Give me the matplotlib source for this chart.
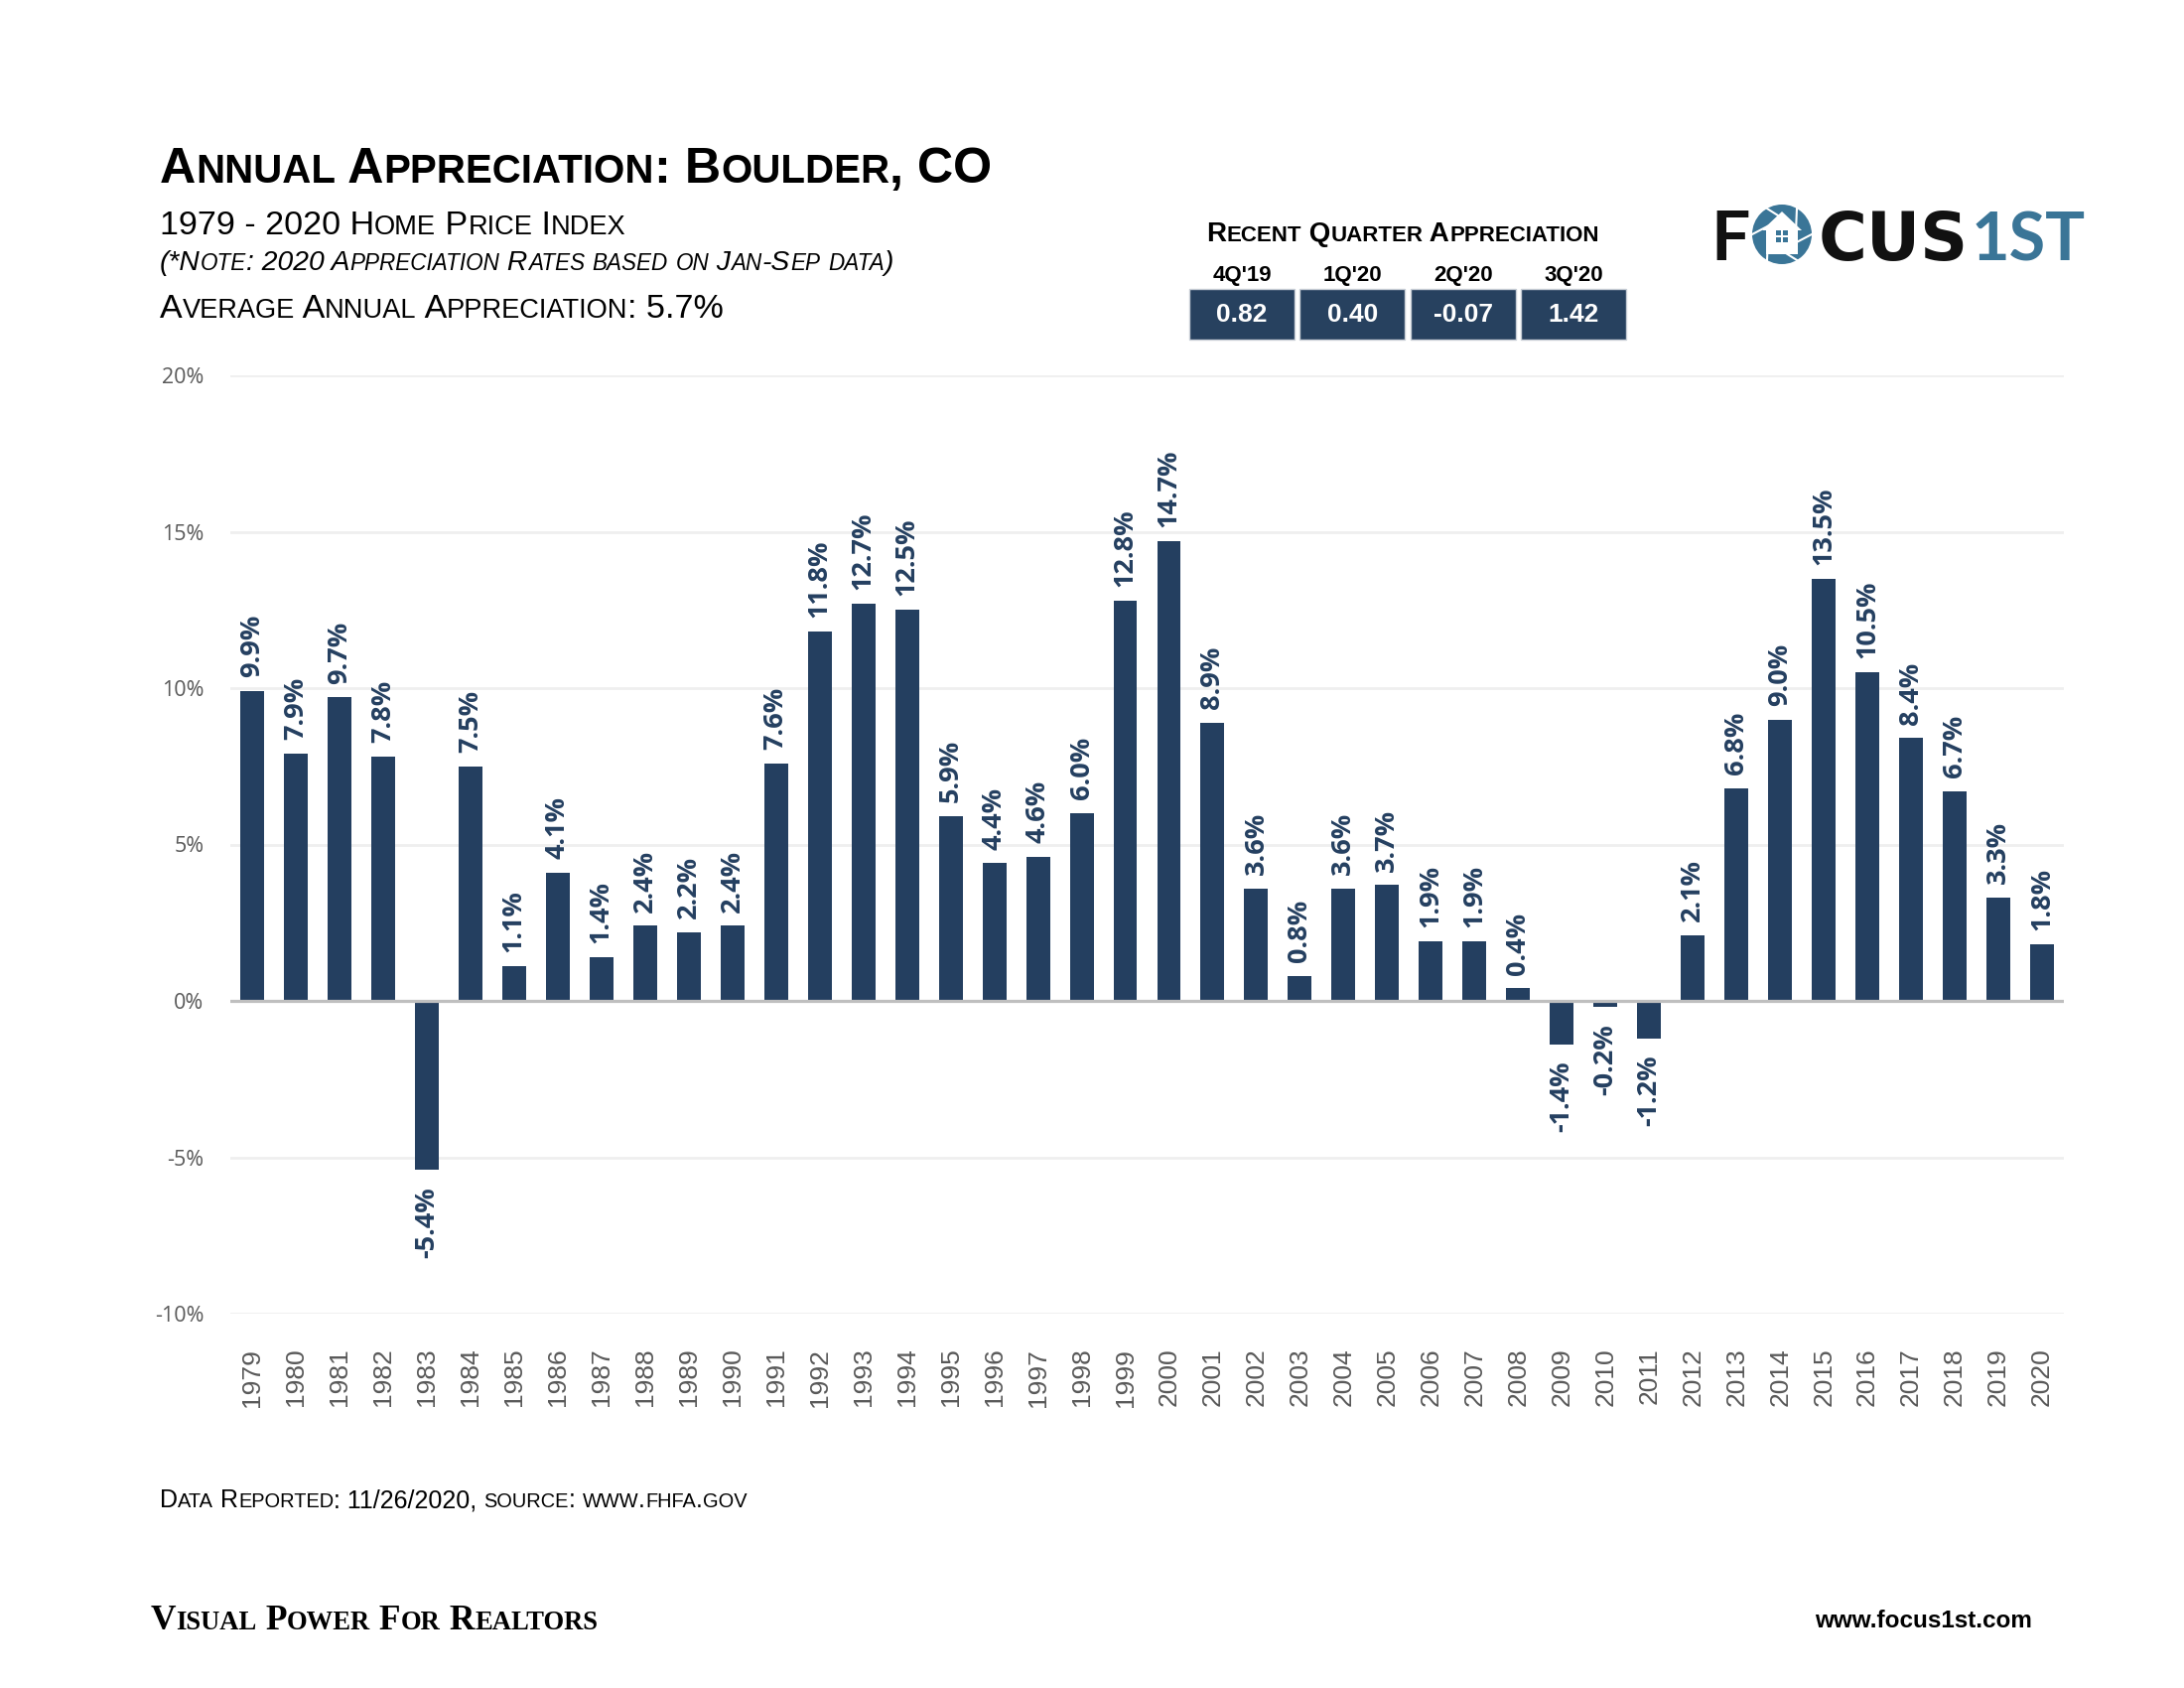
import itertools
import numpy as np
import matplotlib
matplotlib.use('Agg')
from matplotlib import pyplot as plt
from matplotlib.patches import Rectangle, Circle, Polygon

years = list(range(1979, 2021))
appreciation = [9.9, 7.9, 9.7, 7.8, -5.4, 7.5, 1.1, 4.1, 1.4, 2.4, 2.2, 2.4, 7.6,
                11.8, 12.7, 12.5, 5.9, 4.4, 4.6, 6.0, 12.8, 14.7, 8.9, 3.6, 0.8,
                3.6, 3.7, 1.9, 1.9, 0.4, -1.4, -0.2, -1.2, 2.1, 6.8, 9.0, 13.5,
                10.5, 8.4, 6.7, 3.3, 1.8]
quarters = ["4Q'19", "1Q'20", "2Q'20", "3Q'20"]
quarter_values = ['0.82', '0.40', '-0.07', '1.42']
yticks = [-10, -5, 0, 5, 10, 15, 20]

NAVY = '#243F60'
TEAL = '#3A7597'
GRAY = '#595959'
SANS = ['Liberation Sans', 'DejaVu Sans']
W, H = 2200, 1700

fig = plt.figure(figsize=(22, 17), dpi=100)
fig.patch.set_facecolor('white')

# main chart
ax = fig.add_axes([232 / W, 1 - 1323 / H, (2079 - 232) / W, (1323 - 378) / H])
x = np.arange(len(years))
ax.bar(x, appreciation, width=0.545, color=NAVY, zorder=3)
ax.set_xlim(-0.5, len(years) - 0.5)
ax.set_ylim(-10, 20)
ax.set_yticks(yticks)
ax.set_yticklabels(['%d%%' % v for v in yticks], fontsize=15.5, color=GRAY,
                   family=['Open Sans', 'DejaVu Sans'])
ax.set_xticks(x)
ax.set_xticklabels([str(y) for y in years], rotation=90, fontsize=19, color=GRAY,
                   family=SANS)
ax.tick_params(axis='both', length=0)
ax.tick_params(axis='x', pad=25)
ax.tick_params(axis='y', pad=19)
for s in ax.spines.values():
    s.set_visible(False)
ax.grid(axis='y', color='#EFEFEF', linewidth=2, zorder=0)
ax.axhline(0, color='#BFBFBF', linewidth=2.3, zorder=4)

for xi, v in zip(x, appreciation):
    if v >= 0:
        ax.annotate('%.1f%%' % v, (xi, v), xytext=(0, 10), textcoords='offset points',
                    rotation=90, ha='center', va='bottom', fontsize=19.5,
                    fontweight='bold', color=NAVY, family=['Open Sans', 'DejaVu Sans'])
    else:
        ax.annotate('%.1f%%' % v, (xi, v), xytext=(0, -12), textcoords='offset points',
                    rotation=90, ha='center', va='top', fontsize=19.5,
                    fontweight='bold', color=NAVY, family=['Open Sans', 'DejaVu Sans'])

# overlay in pixel coordinates for the header / footer
ov = fig.add_axes([0, 0, 1, 1], zorder=10)
ov.set_xlim(0, W)
ov.set_ylim(H, 0)
ov.axis('off')
renderer = fig.canvas.get_renderer()


def text_width(t, size, **kw):
    a = ov.text(0, 0, t + '|', fontsize=size, **kw)
    b = ov.text(0, 0, '|', fontsize=size, **kw)
    w = a.get_window_extent(renderer).width - b.get_window_extent(renderer).width
    a.remove()
    b.remove()
    return w


def small_caps(xp, yp, s, size, ratio=0.8, ha='left', **kw):
    runs = []
    for low, grp in itertools.groupby(s, key=str.islower):
        t = ''.join(grp).upper()
        sz = size * ratio if low else size
        runs.append((t, sz, text_width(t, sz, **kw)))
    total = sum(r[2] for r in runs)
    if ha == 'center':
        xp -= total / 2
    elif ha == 'right':
        xp -= total
    for t, sz, w in runs:
        ov.text(xp, yp, t, fontsize=sz, ha='left', va='baseline', **kw)
        xp += w


small_caps(161, 184, 'Annual Appreciation: Boulder, CO', 36.2, family=SANS,
           fontweight='bold')
small_caps(161, 236, '1979 - 2020 Home Price Index', 24.5, family=SANS)
small_caps(161, 272, '(*Note: 2020 Appreciation Rates based on Jan-Sep data)', 20.3,
           family=SANS, style='italic')
small_caps(161, 320, 'Average Annual Appreciation: 5.7%', 24.5, family=SANS)

# recent quarter block
small_caps(1413, 243, 'Recent Quarter Appreciation', 20, ha='center', family=SANS,
           fontweight='bold')
for i, (q, val) in enumerate(zip(quarters, quarter_values)):
    cx = 1251 + i * 111.3
    ov.text(cx, 283, q, fontsize=16, fontweight='bold', ha='center', va='baseline',
            family=SANS)
    ov.add_patch(Rectangle((cx - 53, 291), 106, 51, facecolor='#27415F',
                           edgecolor='#C8CED6', linewidth=1))
    ov.text(cx, 317, val, fontsize=19, fontweight='bold', ha='center', va='center',
            color='white', family=SANS)

# logo
ov.text(1723, 262, 'F', fontsize=50, fontweight='bold', color='#111111',
        ha='left', va='baseline', family=['Lato', 'DejaVu Sans'])
ov.add_patch(Circle((1795, 236), 30, facecolor=TEAL, edgecolor='none'))
for ang in np.arange(0, 360, 60):
    a = np.radians(ang)
    ov.plot([1795 + 30 * np.cos(a), 1795 + 14 * np.cos(a + 1.2)],
            [236 + 30 * np.sin(a), 236 + 14 * np.sin(a + 1.2)],
            color='white', linewidth=1.5)
ov.add_patch(Polygon([(1775, 232), (1795, 213), (1815, 232), (1811, 232), (1811, 256),
                      (1779, 256), (1779, 232)], closed=True, facecolor='white',
                     edgecolor='none'))
for dx in (-6, 1):
    for dy in (-6, 1):
        ov.add_patch(Rectangle((1795 + dx, 238 + dy), 5, 5, facecolor=TEAL,
                               edgecolor='none'))
ov.text(1832, 262, 'CUS', fontsize=48, fontweight='bold', color='#111111',
        ha='left', va='baseline', family=['DejaVu Sans'])
ov.text(1986, 262, '1ST', fontsize=48, fontweight='bold', color=TEAL,
        ha='left', va='baseline', family=['Lato', 'DejaVu Sans'])

# footer
small_caps(161, 1518, 'Data Reported: 11/26/2020, source: www.fhfa.gov', 18,
           family=SANS)
small_caps(152, 1641, 'Visual Power For Realtors', 25.5, ratio=0.75,
           family=['Liberation Serif', 'DejaVu Serif'], fontweight='bold')
ov.text(2047, 1639, 'www.focus1st.com', fontsize=17.5, fontweight='bold', ha='right',
        va='baseline', family=SANS)

fig.savefig('out.png', dpi=100, facecolor='white')
